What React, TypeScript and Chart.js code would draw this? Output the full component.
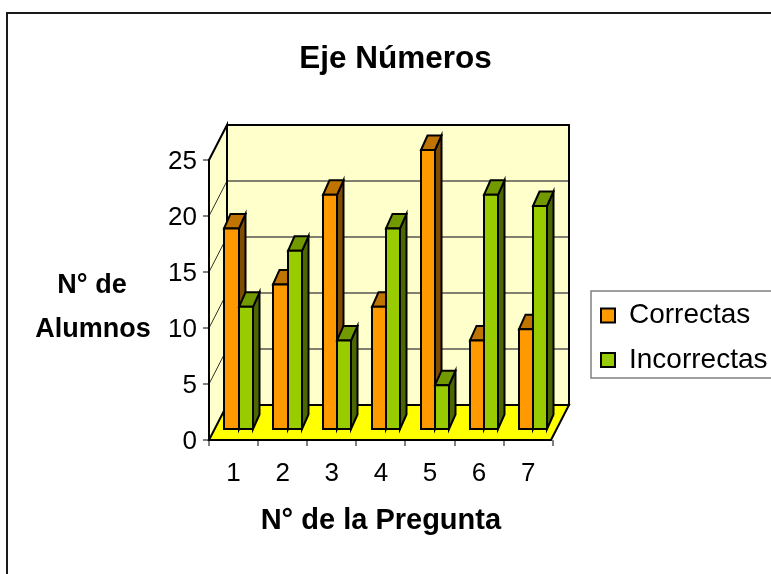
import React, { useEffect, useRef } from "react";
import { Chart, registerables } from "chart.js";

Chart.register(...registerables);

const categories = ["1", "2", "3", "4", "5", "6", "7"];
const correctas = [18, 13, 21, 11, 25, 8, 9];
const incorrectas = [11, 16, 8, 18, 4, 21, 20];
const seriesNames = ["Correctas", "Incorrectas"];
const chartTitle = "Eje Números";
const xTitle = "N° de la Pregunta";
const yTitleLines = ["N° de", "Alumnos"];

const FAMILY = "'Liberation Sans', Arial, sans-serif";
const PLOT = { left: 209, right: 551, top: 160, bottom: 440 };
const DEPTH = { x: 18, y: -35 };
const BAR_SHIFT = { x: 5, y: -10 };
const BAR_DEPTH = { x: 6.5, y: -14.5 };
const LEGEND_FONT = 28;
const LEGEND_ROW_PAD = 16.5;
const LEGEND_BOX = 14;

const shades = [
  { front: "#FF9900", top: "#BF7300", side: "#7F4C00" },
  { front: "#99CC00", top: "#739900", side: "#4C6600" },
];

function poly(ctx: CanvasRenderingContext2D, pts: number[][], fill?: string, stroke?: string, lw = 2) {
  ctx.beginPath();
  pts.forEach((p, i) => (i ? ctx.lineTo(p[0], p[1]) : ctx.moveTo(p[0], p[1])));
  ctx.closePath();
  if (fill) {
    ctx.fillStyle = fill;
    ctx.fill();
  }
  if (stroke) {
    ctx.strokeStyle = stroke;
    ctx.lineWidth = lw;
    ctx.lineJoin = "miter";
    ctx.stroke();
  }
}

const barRect = (el: any) => {
  const x0 = Math.round(el.x - el.width / 2);
  const x1 = Math.round(el.x + el.width / 2);
  return { x0, x1, y0: el.y, y1: el.base };
};

function paintSeries(chart: any, index: number) {
  const { ctx } = chart;
  const shade = shades[index];
  const meta = chart.getDatasetMeta(index);
  ctx.save();
  ctx.translate(BAR_SHIFT.x, BAR_SHIFT.y);
  meta.data.forEach((el: any) => {
    const { x0, x1, y0, y1 } = barRect(el);
    const { x: bx, y: by } = BAR_DEPTH;
    poly(ctx, [[x1, y0], [x1 + bx, y0 + by], [x1 + bx, y1 + by], [x1, y1]], shade.side, "#000");
    poly(ctx, [[x0, y0], [x0 + bx, y0 + by], [x1 + bx, y0 + by], [x1, y0]], shade.top, "#000");
  });
  meta.controller.draw();
  meta.data.forEach((el: any) => {
    const { x0, x1, y0, y1 } = barRect(el);
    poly(ctx, [[x0, y0], [x1, y0], [x1, y1], [x0, y1]], undefined, "#000");
  });
  ctx.restore();
}

const box3d = {
  id: "box3d",
  beforeDraw(chart: any) {
    const { ctx } = chart;
    ctx.save();
    ctx.fillStyle = "#FFFFFF";
    ctx.fillRect(0, 0, chart.width, chart.height);
    ctx.strokeStyle = "#1A1A1A";
    ctx.lineWidth = 2;
    ctx.beginPath();
    ctx.moveTo(7, 600);
    ctx.lineTo(7, 13);
    ctx.lineTo(800, 13);
    ctx.stroke();
    ctx.strokeStyle = "#808080";
    ctx.lineWidth = 1.5;
    ctx.strokeRect(591, 291, 300, 87);
    ctx.restore();
  },
  afterLayout(chart: any) {
    const legend = chart.legend;
    legend.left = 601 - LEGEND_ROW_PAD;
    legend.right = 771;
    legend.top = 301.5 - LEGEND_ROW_PAD;
    legend.bottom = 574;
    const title = chart.titleBlock;
    title.left = 290;
    title.right = 501;
  },
  beforeDatasetsDraw(chart: any) {
    const { ctx, scales } = chart;
    const { left, right, top, bottom } = PLOT;
    const { x: dx, y: dy } = DEPTH;
    ctx.save();
    poly(ctx, [[left, top], [left + dx, top + dy], [left + dx, bottom + dy], [left, bottom]], "#FFFFCC");
    poly(ctx, [[left + dx, top + dy], [right + dx, top + dy], [right + dx, bottom + dy], [left + dx, bottom + dy]], "#FFFFCC");
    poly(ctx, [[left, bottom], [right, bottom], [right + dx, bottom + dy], [left + dx, bottom + dy]], "#FFFF00");
    scales.y.ticks.forEach((t: any) => {
      if (t.value === 0) return;
      const py = scales.y.getPixelForValue(t.value);
      ctx.beginPath();
      ctx.moveTo(left, py);
      ctx.lineTo(left + dx, py + dy);
      ctx.strokeStyle = "#33332A";
      ctx.lineWidth = 1;
      ctx.stroke();
      if (t.value === 25) return;
      ctx.beginPath();
      ctx.moveTo(left + dx, py + dy);
      ctx.lineTo(right + dx, py + dy);
      ctx.strokeStyle = "#808070";
      ctx.lineWidth = 2;
      ctx.stroke();
    });
    poly(ctx, [[left, bottom], [right, bottom], [right + dx, bottom + dy], [left + dx, bottom + dy]], undefined, "#000");
    poly(ctx, [[left, top], [left + dx, top + dy], [right + dx, top + dy], [right + dx, bottom + dy], [left + dx, bottom + dy], [left + dx, top + dy], [left, top], [left, bottom]], undefined, "#000");
    ctx.restore();
    paintSeries(chart, 0);
    paintSeries(chart, 1);
  },
  beforeDatasetDraw() {
    return false;
  },
  afterDraw(chart: any) {
    const { ctx } = chart;
    ctx.save();
    ctx.fillStyle = "#000";
    ctx.font = `bold 27px ${FAMILY}`;
    ctx.textAlign = "center";
    ctx.textBaseline = "alphabetic";
    ctx.fillText(yTitleLines[0], 92, 293);
    ctx.fillText(yTitleLines[1], 93, 337);
    ctx.restore();
  },
};

export default function App() {
  const ref = useRef<HTMLCanvasElement>(null);
  useEffect(() => {
    const canvas = ref.current!;
    const ctx = canvas.getContext("2d")!;
    ctx.font = `${LEGEND_FONT}px ${FAMILY}`;
    const textW = Math.max(...seriesNames.map((s) => ctx.measureText(s).width));
    const legendW = LEGEND_ROW_PAD + LEGEND_BOX + LEGEND_FONT / 2 + textW + 3;
    const chart = new Chart(canvas, {
      type: "bar",
      data: {
        labels: categories,
        datasets: [
          { label: seriesNames[0], data: correctas, backgroundColor: shades[0].front, borderWidth: 0, clip: false },
          { label: seriesNames[1], data: incorrectas, backgroundColor: shades[1].front, borderWidth: 0, clip: false },
        ] as any,
      },
      options: {
        animation: false,
        responsive: false,
        events: [],
        categoryPercentage: 0.577,
        barPercentage: 1,
        layout: { padding: { left: 0, top: 0, bottom: 0, right: 771 - PLOT.right - legendW } },
        plugins: {
          tooltip: { enabled: false },
          title: {
            display: true,
            text: chartTitle,
            color: "#000",
            font: { family: FAMILY, size: 31.5, weight: "bold", lineHeight: 1.2 },
            padding: { top: 40, bottom: 82.2 },
          },
          legend: {
            display: true,
            position: "right",
            align: "start",
            labels: {
              color: "#000",
              font: { family: FAMILY, size: LEGEND_FONT },
              boxWidth: LEGEND_BOX,
              boxHeight: LEGEND_BOX,
              padding: LEGEND_ROW_PAD,
              generateLabels: (c: any) =>
                Chart.defaults.plugins.legend.labels.generateLabels(c).map((l: any) => ({ ...l, lineWidth: 2, strokeStyle: "#000" })),
            },
          },
        },
        scales: {
          x: {
            afterFit: (s: any) => { s.height = 574 - PLOT.bottom; },
            grid: { drawOnChartArea: false, drawTicks: true, tickLength: 6, color: "#808080", lineWidth: 2, offset: true },
            border: { display: false },
            ticks: { color: "#000", font: { family: FAMILY, size: 26 }, padding: 12, maxRotation: 0 },
            title: {
              display: true,
              text: xTitle,
              color: "#000",
              font: { family: FAMILY, size: 29, weight: "bold", lineHeight: 1.2 },
              padding: { top: 0, bottom: 36 },
            },
          },
          y: {
            min: 0,
            max: 25,
            afterFit: (s: any) => { s.width = PLOT.left; },
            grid: { drawOnChartArea: false, drawTicks: true, tickLength: 6, color: "#808080", lineWidth: 2 },
            border: { display: false },
            ticks: { stepSize: 5, color: "#000", font: { family: FAMILY, size: 26 }, padding: 6, labelOffset: 2 },
          },
        },
      } as any,
      plugins: [box3d],
    });
    return () => chart.destroy();
  }, []);
  return (
    <div style={{ position: "absolute", left: 0, top: 0, width: 771, height: 574, overflow: "hidden" }}>
      <canvas ref={ref} width={771} height={574} style={{ display: "block" }} />
    </div>
  );
}
